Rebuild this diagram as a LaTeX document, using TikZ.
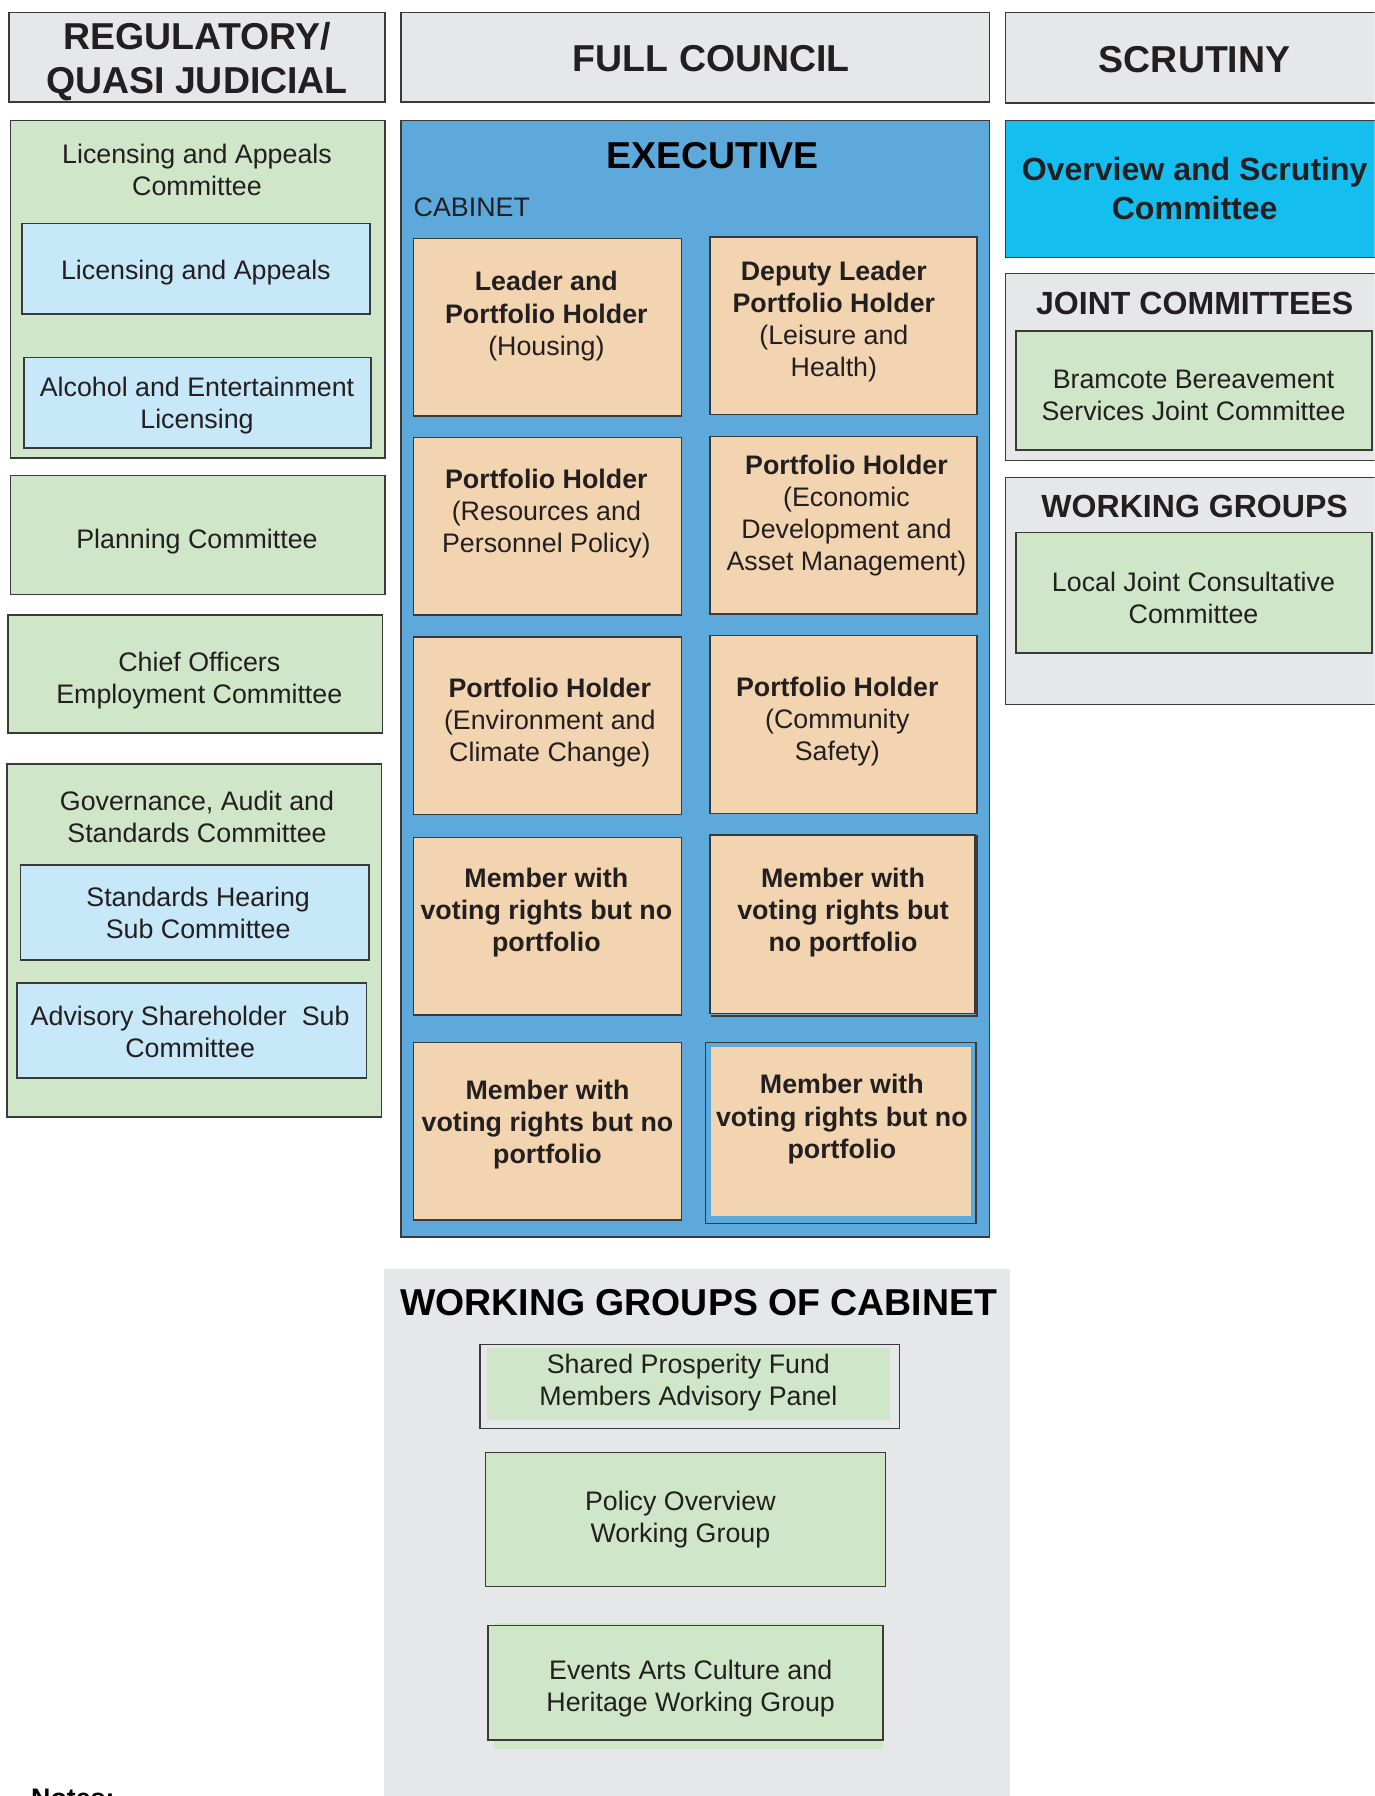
\documentclass[tikz,border=0pt]{standalone}
\usepackage{fontspec}
\setmainfont{Liberation Sans}
\definecolor{hdrgray}{HTML}{E6E7E8}
\definecolor{grn}{HTML}{D0E6C8}
\definecolor{lblue}{HTML}{C6E8F8}
\definecolor{execblue}{HTML}{5EA9DC}
\definecolor{peach}{HTML}{F2D5B0}
\definecolor{cyanbox}{HTML}{14BFF0}
\definecolor{edge}{HTML}{3A3A3A}
\definecolor{txtc}{HTML}{231F20}
\newcommand\bxx[6]{%
  \pgfmathsetmacro\bw{#5-#3}\pgfmathsetmacro\bh{#6-#4}%
  \node (#1) [#2, anchor=north west, minimum width=\bw pt, minimum height=\bh pt] at (#3,#4) {};}
\begin{document}
\begin{tikzpicture}[x=1pt,y=-1pt,
  boxbase/.style={rectangle, inner sep=0pt, outer sep=0pt, draw=edge, line width=1.3pt},
  hdrbox/.style={boxbase, fill=hdrgray},
  grnbox/.style={boxbase, fill=grn},
  bluebox/.style={boxbase, fill=lblue},
  execbox/.style={boxbase, fill=execblue},
  cabbox/.style={boxbase, fill=peach},
  cyanfill/.style={boxbase, fill=cyanbox},
  txt/.style={inner sep=0pt, align=center, text=txtc, font=\fontsize{23.4}{28}\selectfont},
  btxt/.style={txt, font=\fontsize{23.4}{28}\selectfont\bfseries},
  hdrtxt/.style={inner sep=0pt, align=center, text=txtc, font=\fontsize{32.7}{38}\selectfont\bfseries},
  midtxt/.style={inner sep=0pt, align=center, text=txtc, font=\fontsize{28}{34}\selectfont\bfseries}
]
\useasboundingbox (0,0) rectangle (1200,1568);
\clip (0,0) rectangle (1200,1568);
\fill[white] (0,0) rectangle (1200,1568);

% ---------- headers ----------
\bxx{reg}{hdrbox}{8}{11}{336}{89}
\bxx{fc}{hdrbox}{350}{11}{864}{89}
\bxx{scr}{hdrbox}{878}{11}{1210}{90}
\node (regt) [hdrtxt] at (172,54) {REGULATORY/\\QUASI JUDICIAL};
\node (fct) [hdrtxt] at (621,51) {FULL COUNCIL};
\node (scrt) [hdrtxt] at (1043,52) {SCRUTINY};

% ---------- left column ----------
\bxx{lic}{grnbox}{9}{105}{336}{400}
\node (lict) [txt] at (172,148) {Licensing and Appeals\\Committee};
\bxx{lica}{bluebox}{19}{195}{323}{274}
\node (licat) [txt] at (171,238) {Licensing and Appeals};
\bxx{alc}{bluebox}{21}{312}{324}{391}
\node (alct) [txt] at (172,354) {Alcohol and Entertainment\\Licensing};
\bxx{plan}{grnbox}{9}{415}{336}{519}
\node (plant) [txt] at (172,473) {Planning Committee};
\bxx{chief}{grnbox}{7}{537}{334}{640}
\node (chieft) [txt] at (174,594) {Chief Officers\\Employment Committee};
\bxx{gov}{grnbox}{6}{667}{333}{975}
\node (govt) [txt] at (172,713) {Governance, Audit and\\Standards Committee};
\bxx{std}{bluebox}{18}{755}{322}{838}
\node (stdt) [txt] at (173,797) {Standards Hearing\\Sub Committee};
\bxx{adv}{bluebox}{15}{858}{320}{941}
\node (advt) [txt] at (166,901) {Advisory Shareholder\ \ Sub\\Committee};

% ---------- executive ----------
\bxx{exec}{execbox}{350}{105}{864}{1080}
\node (exect) [hdrtxt, text=black] at (622,136) {EXECUTIVE};
\node (cabt) [txt, anchor=west] at (361,181) {CABINET};

\bxx{c1l}{cabbox}{361}{208}{595}{363}
\node (c1lt) [txt] at (477,276) {\textbf{Leader and}\\\textbf{Portfolio Holder}\\(Housing)};
\bxx{c1r}{cabbox}{620}{207}{853}{362}
\node (c1rt) [txt] at (728,281) {\textbf{Deputy Leader}\\\textbf{Portfolio Holder}\\(Leisure and\\Health)};

\bxx{c2l}{cabbox}{361}{382}{595}{537}
\node (c2lt) [txt] at (477,448) {\textbf{Portfolio Holder}\\(Resources and\\Personnel Policy)};
\bxx{c2r}{cabbox}{620}{381}{853}{536}
\node (c2rt) [txt] at (739,450) {\textbf{Portfolio Holder}\\(Economic\\Development and\\Asset Management)};

\bxx{c3l}{cabbox}{361}{556}{595}{711}
\node (c3lt) [txt] at (480,631) {\textbf{Portfolio Holder}\\(Environment and\\Climate Change)};
\bxx{c3r}{cabbox}{620}{555}{853}{710}
\node (c3rt) [txt] at (731,630) {\textbf{Portfolio Holder}\\(Community\\Safety)};

\bxx{c4l}{cabbox}{361}{731}{595}{886}
\node (c4lt) [btxt] at (477,797) {Member with\\voting rights but no\\portfolio};
\draw[edge, line width=1.3pt] (621,887) -- (853,887) -- (853,729);
\bxx{c4r}{cabbox}{620}{729}{851}{885}
\draw[edge, line width=2.5pt] (c4r.north west) -- (c4r.north east);
\node (c4rt) [btxt] at (736,797) {Member with\\voting rights but\\no portfolio};

\bxx{c5l}{cabbox}{361}{910}{595}{1065}
\node (c5lt) [btxt] at (478,982) {Member with\\voting rights but no\\portfolio};
\bxx{c5r}{boxbase, fill=execblue}{616}{910}{852}{1068}
\bxx{c5ri}{rectangle, inner sep=0pt, outer sep=0pt, fill=peach}{621}{914}{848}{1062}
\node (c5rt) [btxt] at (735,977) {Member with\\voting rights but no\\portfolio};

% ---------- right column ----------
\bxx{ovs}{cyanfill}{878}{105}{1210}{225}
\node (ovst) [midtxt] at (1043,165) {Overview and Scrutiny\\Committee};
\bxx{joint}{hdrbox}{878}{239}{1210}{402}
\node (jointt) [midtxt] at (1043,265) {JOINT COMMITTEES};
\bxx{bram}{grnbox}{887}{289}{1198}{393}
\node (bramt) [txt] at (1042,345) {Bramcote Bereavement\\Services Joint Committee};
\bxx{wg}{hdrbox}{878}{417}{1210}{615}
\node (wgt) [midtxt] at (1043,442) {WORKING GROUPS};
\bxx{ljc}{grnbox}{887}{465}{1198}{570}
\node (ljct) [txt] at (1042,522) {Local Joint Consultative\\Committee};

% ---------- working groups of cabinet ----------
\bxx{wgc}{rectangle, inner sep=0pt, outer sep=0pt, fill=hdrgray}{335}{1108}{882}{1600}
\node (wgct) [hdrtxt, text=black] at (610,1137) {WORKING GROUPS OF CABINET};
\bxx{spf}{boxbase, line width=1.1pt}{419}{1174}{785}{1247}
\bxx{spfi}{rectangle, inner sep=0pt, outer sep=0pt, fill=grn}{425}{1177}{777}{1240}
\node (spft) [txt] at (601,1207) {Shared Prosperity Fund\\Members Advisory Panel};
\bxx{pol}{grnbox}{424}{1268}{773}{1385}
\node (polt) [txt] at (594,1327) {Policy Overview\\Working Group};
\bxx{evsh}{rectangle, inner sep=0pt, outer sep=0pt, fill=grn}{431}{1417}{771}{1527}
\bxx{ev}{grnbox}{426}{1419}{771}{1519}
\node (evt) [txt] at (603,1474) {Events Arts Culture and\\Heritage Working Group};

% ---------- notes ----------
\node (notes) [btxt, anchor=base west, text=black] at (27,1578) {Notes:};
\end{tikzpicture}
\end{document}
